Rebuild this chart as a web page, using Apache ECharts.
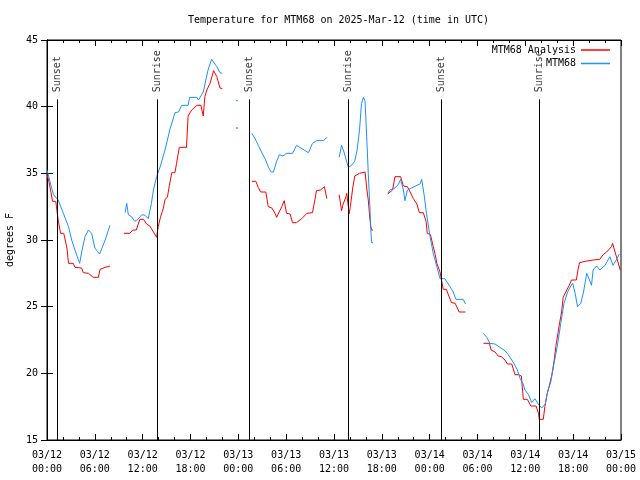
<!DOCTYPE html>
<html>
<head>
<meta charset="utf-8">
<script src="https://cdn.jsdelivr.net/npm/echarts@6/dist/echarts.min.js"></script>
<style>html,body{margin:0;padding:0;background:#fff}#c{width:640px;height:480px}</style>
</head>
<body>
<div id="c"></div>
<script>
// Hours since 03/12 00:00 UTC; null marks a gap in the record
const analysisTimes = [0,0.2,0.7,1.1,1.4,1.7,2.1,2.5,2.7,3.3,3.5,4.35,4.55,5.2,5.8,6.45,6.65,7.3,7.9,8.8,
  9.65,10.4,10.75,11.2,11.65,12.1,12.5,12.9,13.35,13.75,13.95,14.25,14.6,14.8,15.1,15.35,15.65,16.05,16.25,16.6,17.5,17.7,18.15,18.8,19.3,19.6,19.8,20.05,20.45,20.9,21.3,21.7,22.0,22.8,
  23.7,23.95,24.8,
  25.7,26.2,26.5,26.8,27.45,27.75,28.2,28.6,28.8,29.0,29.45,29.75,30.05,30.5,30.8,31.3,31.95,32.6,33.3,33.6,33.8,34.3,34.8,35.1,35.9,
  36.65,36.95,37.1,37.5,37.6,37.9,38.05,38.35,38.6,39.2,39.45,39.9,40.1,40.3,40.45,40.6,40.7,40.9,41.8,
  42.75,43.35,43.65,44.35,44.7,45.2,45.55,45.95,46.4,46.7,47.2,47.55,47.7,48.1,48.45,48.7,48.9,49.3,49.7,50.1,50.4,50.75,51.2,51.7,52.5,53.5,
  54.75,55.5,55.7,56.2,56.6,57.0,57.45,57.75,58.3,58.7,59.15,59.5,59.75,60.25,60.7,61.35,61.65,61.75,62.25,62.45,62.75,63.0,63.3,63.6,63.85,64.25,64.55,64.75,65.2,65.5,65.8,66.4,66.6,66.8,67.5,68.5,69.35,69.75,70.2,70.8,70.95,71.25,71.55,71.9];
const analysisTemps = [34.9,34.5,32.9,32.9,31.5,30.5,30.5,29.4,28.25,28.25,27.95,27.9,27.55,27.5,27.2,27.2,27.8,27.95,28.05,null,
  30.5,30.5,30.75,30.75,31.55,31.55,31.2,31.05,30.6,30.2,31.0,31.75,32.4,33.05,33.2,34.1,35.05,35.05,35.75,36.95,36.95,39.3,39.75,40.1,40.1,39.3,40.75,41.25,41.75,42.7,42.25,41.4,41.35,null,
  38.4,38.4,null,
  34.4,34.4,33.95,33.6,33.6,32.5,32.4,32.0,31.7,31.7,32.5,32.95,32.0,31.95,31.3,31.3,31.6,32.0,32.05,33.0,33.7,33.75,34.0,33.1,null,
  33.4,32.2,32.6,33.25,33.5,31.95,32.5,33.9,34.8,35.0,35.1,35.1,33.9,33.0,31.95,31.05,30.75,30.75,null,
  33.45,33.75,34.75,34.75,34.05,34.0,33.6,33.1,32.7,32.05,32.05,31.4,30.5,30.4,29.5,28.9,28.25,27.6,26.3,26.3,25.8,25.3,25.25,24.6,24.6,null,
  22.25,22.25,21.75,21.6,21.3,21.25,21.0,20.7,20.7,19.9,19.9,19.8,18.05,18.05,17.55,17.55,17.0,16.55,16.55,17.5,18.5,19.05,19.8,20.9,22.1,23.6,24.6,25.7,26.25,26.6,27.0,27.0,27.75,28.3,28.4,28.5,28.55,28.9,29.1,29.5,29.75,29.1,28.5,27.75];

const stationTimes = [0,0.8,1.4,2.05,2.7,3.1,3.5,4.1,4.35,4.77,5.2,5.6,6.0,6.6,7.3,7.9,8.8,
  9.8,10.0,10.2,10.6,11.0,11.4,11.9,12.3,12.7,13.1,13.35,13.75,14.2,14.8,15.4,16.05,16.5,16.9,17.7,17.9,18.8,19.0,19.6,20.2,20.65,21.3,21.7,22.0,22.8,
  23.7,23.95,24.8,
  25.7,26.1,26.5,26.9,27.35,27.75,28.1,28.4,28.8,29.15,29.6,30.05,30.8,31.3,31.7,32.25,32.8,33.3,33.8,34.7,35.1,35.9,
  36.65,36.95,37.25,37.8,38.2,38.6,38.9,39.2,39.45,39.7,39.9,40.1,40.3,40.5,40.7,40.9,41.8,
  42.75,43.0,43.2,43.65,44.1,44.35,44.7,44.9,45.2,45.75,46.4,46.8,47.0,47.3,47.6,48.05,48.45,48.9,49.3,49.9,50.55,50.95,51.3,52.2,52.5,53.5,
  54.75,55.15,55.55,56.2,56.8,57.45,57.85,58.3,58.7,59.0,59.35,59.7,59.95,60.4,60.8,61.2,61.6,62.05,62.5,62.75,63.2,63.6,64.0,64.45,64.85,65.3,65.7,65.95,66.25,66.55,66.95,67.3,67.7,68.05,68.3,68.5,68.95,69.35,70.0,70.6,71.0,71.4,71.8];
const stationTemps = [35.25,33.4,33.0,32.0,31.0,30.0,29.25,28.25,29.1,30.25,30.75,30.5,29.4,28.95,30.0,31.1,null,
  32.05,32.75,31.9,31.75,31.4,31.55,31.9,31.85,31.6,32.75,33.75,34.75,35.5,36.75,38.25,39.55,39.6,40.1,40.1,40.7,40.7,40.5,41.1,42.75,43.55,43.0,42.55,42.5,null,
  40.45,40.45,null,
  38.0,37.6,37.1,36.6,36.1,35.5,35.1,35.1,35.9,36.4,36.3,36.5,36.5,37.1,36.95,36.75,36.55,37.25,37.45,37.45,37.7,null,
  36.2,37.1,36.6,35.45,35.6,35.9,36.75,38.25,40.25,40.7,40.4,37.75,35.0,32.5,29.8,29.8,null,
  33.5,33.75,33.6,33.9,34.2,34.55,33.75,32.95,33.75,33.9,34.1,34.2,34.55,33.4,32.0,30.25,29.0,28.0,27.1,27.1,26.5,26.1,25.55,25.55,25.2,null,
  23.0,22.7,22.25,22.2,21.95,21.7,21.4,21.0,20.6,20.25,19.6,19.25,18.75,18.4,17.8,18.1,17.7,17.4,17.7,18.5,19.4,20.75,22.0,23.75,25.25,26.1,26.55,26.75,26.0,25.0,25.25,26.1,27.5,27.0,26.6,27.75,28.05,27.75,28.1,28.75,28.1,28.5,28.95];

const eventTimes = [1.3, 13.84, 25.38, 37.8, 49.46, 61.75];
const eventNames = ['Sunset','Sunrise','Sunset','Sunrise','Sunset','Sunrise'];
const xTickLabels = ['03/12\n00:00','03/12\n06:00','03/12\n12:00','03/12\n18:00','03/13\n00:00','03/13\n06:00','03/13\n12:00','03/13\n18:00','03/14\n00:00','03/14\n06:00','03/14\n12:00','03/14\n18:00','03/15\n00:00'];

const FONT = 'DejaVu Sans Mono';
const pairs = (ts, vs) => ts.map((t, i) => [t, vs[i] === null ? '-' : vs[i]]);
const eventTop = 40.55;

const chart = echarts.init(document.getElementById('c'), null, {renderer: 'canvas'});
const xCommon = {type: 'value', min: 0, max: 72, interval: 6,
  axisLine: {show: true, lineStyle: {color: '#000', width: 1}},
  axisTick: {show: true, inside: true, length: 6, lineStyle: {color: '#000'}},
  minorTick: {show: true, splitNumber: 3, length: 3, lineStyle: {color: '#000'}},
  splitLine: {show: false}};
const yCommon = {type: 'value', min: 15, max: 45, interval: 5,
  axisLine: {show: true, lineStyle: {color: '#000', width: 1}},
  axisTick: {show: true, inside: true, length: 6, lineStyle: {color: '#000'}},
  splitLine: {show: false}};
const legendCommon = {right: 30, bottom: 'auto', left: 'auto', align: 'right', orient: 'horizontal',
  icon: 'rect', itemWidth: 29, itemHeight: 1.5,
  padding: 0, textStyle: {fontFamily: FONT, fontSize: 10, color: '#000'}};
chart.setOption({
  animation: false,
  backgroundColor: '#fff',
  title: {text: 'Temperature for MTM68 on 2025-Mar-12 (time in UTC)', left: 183, top: 10,
    textStyle: {fontFamily: FONT, fontSize: 10, fontWeight: 'normal', color: '#000'}},
  grid: {left: 47, right: 19, top: 40, bottom: 40, containLabel: false, outerBoundsMode: 'none',
    show: true, borderColor: '#000', borderWidth: 1},
  legend: [
    Object.assign({}, legendCommon, {data: ['MTM68 Analysis'], top: 45}),
    Object.assign({}, legendCommon, {data: ['MTM68'], top: 58.5})
  ],
  xAxis: [
    Object.assign({}, xCommon, {position: 'bottom',
      axisLabel: {fontFamily: FONT, fontSize: 10, color: '#000', margin: 8, lineHeight: 14,
        formatter: v => xTickLabels[Math.round(v / 6)]}}),
    Object.assign({}, xCommon, {position: 'top', axisLabel: {show: false}})
  ],
  yAxis: [
    Object.assign({}, yCommon, {position: 'left', name: 'degrees F', nameLocation: 'middle', nameRotate: 90, nameGap: 32,
      nameTextStyle: {fontFamily: FONT, fontSize: 10, color: '#000'},
      axisLabel: {fontFamily: FONT, fontSize: 10, color: '#000', margin: 9}}),
    Object.assign({}, yCommon, {position: 'right', axisLabel: {show: false}})
  ],
  series: [
    {name: 'MTM68 Analysis', type: 'line', data: pairs(analysisTimes, analysisTemps), symbol: 'none',
      connectNulls: false, lineStyle: {color: '#ff0000', width: 1}, itemStyle: {color: '#ff0000'}, z: 3},
    {name: 'MTM68', type: 'line', data: pairs(stationTimes, stationTemps), symbol: 'none',
      connectNulls: false, lineStyle: {color: '#1e90ff', width: 1}, itemStyle: {color: '#1e90ff'}, z: 4},
    {name: 'events', type: 'scatter', symbolSize: 0, z: 5, silent: true,
      data: eventTimes.map((t, i) => ({value: [t, eventTop], name: eventNames[i]})),
      label: {show: true, formatter: p => p.name, rotate: 90, position: [0, -7], align: 'left', verticalAlign: 'middle',
        fontFamily: FONT, fontSize: 10, color: '#000'},
      markLine: {silent: true, symbol: ['none', 'none'], label: {show: false},
        lineStyle: {color: '#000', width: 1, type: 'solid'},
        data: eventTimes.map(t => [{coord: [t, 15]}, {coord: [t, eventTop]}])}}
  ]
});
</script>
</body>
</html>
